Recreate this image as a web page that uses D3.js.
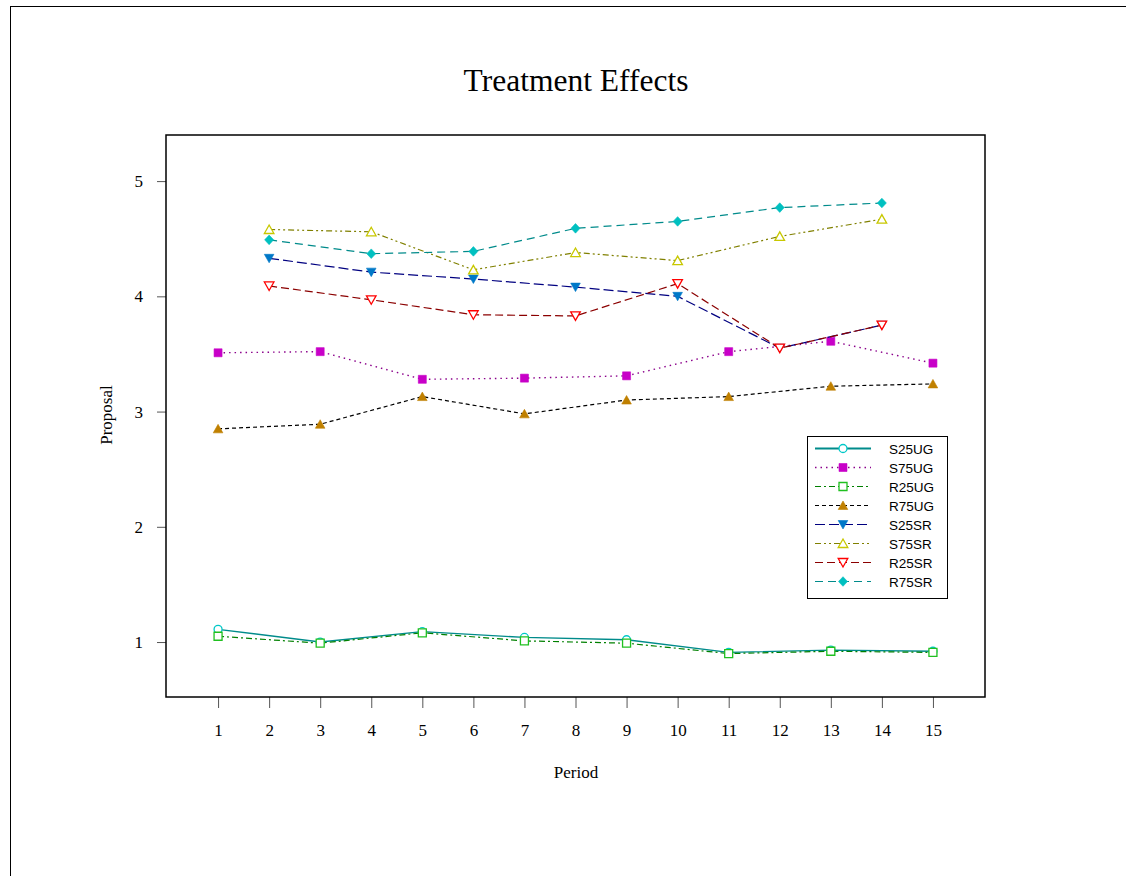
<!DOCTYPE html>
<html>
<head>
<meta charset="utf-8">
<script src="https://cdn.jsdelivr.net/npm/d3@7"></script>
<style>
  body { margin: 0; background: #fff; }
  svg { display: block; }
</style>
</head>
<body>
<div id="chart"></div>
<script>
// periods observed by each group of treatments
var oddPeriods = [1, 3, 5, 7, 9, 11, 13, 15];
var evenPeriods = [2, 4, 6, 8, 10, 12, 14];

// mean proposal per treatment
var s25ug = [1.11, 1.00, 1.09, 1.04, 1.02, 0.91, 0.93, 0.92];
var s75ug = [3.51, 3.52, 3.28, 3.29, 3.31, 3.52, 3.61, 3.42];
var r25ug = [1.05, 0.99, 1.08, 1.01, 0.99, 0.90, 0.92, 0.91];
var r75ug = [2.85, 2.89, 3.13, 2.98, 3.10, 3.13, 3.22, 3.24];
var s25sr = [4.33, 4.21, 4.15, 4.08, 4.00, 3.55, 3.75];
var s75sr = [4.58, 4.56, 4.23, 4.38, 4.31, 4.52, 4.67];
var r25sr = [4.09, 3.97, 3.84, 3.83, 4.11, 3.55, 3.75];
var r75sr = [4.49, 4.37, 4.39, 4.59, 4.65, 4.77, 4.81];

var xTicks = [1, 2, 3, 4, 5, 6, 7, 8, 9, 10, 11, 12, 13, 14, 15];
var yTicks = [1, 2, 3, 4, 5];

var width = 1126, height = 876;

var series = [
	{name: "S25UG", x: oddPeriods, y: s25ug, line: "#008b8b", dash: null, lw: 1.4, shape: "circle", fill: "none", mk: "#00c8c8"},
	{name: "S75UG", x: oddPeriods, y: s75ug, line: "#8b008b", dash: "1.5,4", lw: 1.4, shape: "square", fill: "#c800c8", mk: "#c800c8"},
	{name: "R25UG", x: oddPeriods, y: r25ug, line: "#008000", dash: "6,3,2,3", lw: 1.2, shape: "square", fill: "none", mk: "#20c020"},
	{name: "R75UG", x: oddPeriods, y: r75ug, line: "#000000", dash: "4,3", lw: 1.2, shape: "triangle", fill: "#c08000", mk: "#c08000"},
	{name: "S25SR", x: evenPeriods, y: s25sr, line: "#000080", dash: "10,4", lw: 1.2, shape: "down", fill: "#0078c8", mk: "#0078c8"},
	{name: "S75SR", x: evenPeriods, y: s75sr, line: "#808000", dash: "6,3,2,3,2,3", lw: 1.2, shape: "triangle", fill: "none", mk: "#c8c800"},
	{name: "R25SR", x: evenPeriods, y: r25sr, line: "#8b0000", dash: "8,4", lw: 1.2, shape: "down", fill: "none", mk: "#ff0000"},
	{name: "R75SR", x: evenPeriods, y: r75sr, line: "#008b8b", dash: "8,5", lw: 1.2, shape: "diamond", fill: "#00c0c0", mk: "#00c0c0"}
];

var svg = d3.select("#chart").append("svg")
	.attr("width", width)
	.attr("height", height);

// outer frame
svg.append("rect")
	.attr("x", 10.5).attr("y", 6.5)
	.attr("width", 1130).attr("height", 880)
	.attr("fill", "none").attr("stroke", "#000").attr("stroke-width", 1);

var plot = {left: 166, right: 985, top: 135, bottom: 697};

var x = d3.scaleLinear().domain([0, 16]).range([167, 984]);
var y = d3.scaleLinear().domain([0.523, 5.4]).range([plot.bottom, plot.top]);

// title
svg.append("text")
	.attr("x", 576).attr("y", 91)
	.attr("text-anchor", "middle")
	.style("font-family", "'Liberation Serif', 'Times New Roman', serif")
	.style("font-size", "31.5px")
	.text("Treatment Effects");

// axes
var xAxis = d3.axisBottom(x).tickValues(xTicks).tickSize(11).tickPadding(16).tickFormat(d3.format("d"));
var yAxis = d3.axisLeft(y).tickValues(yTicks).tickSize(9).tickPadding(14).tickFormat(d3.format("d"));

var gx = svg.append("g").attr("transform", "translate(0," + plot.bottom + ")").call(xAxis);
var gy = svg.append("g").attr("transform", "translate(" + plot.left + ",0)").call(yAxis);

[gx, gy].forEach(function(g) {
	g.select(".domain").remove();
	g.selectAll(".tick line").attr("stroke", "#555").attr("stroke-width", 1);
	g.selectAll(".tick text")
		.style("font-family", "'Liberation Serif', 'Times New Roman', serif")
		.style("font-size", "17px")
		.attr("fill", "#000");
});

svg.append("text")
	.attr("x", 576).attr("y", 778)
	.attr("text-anchor", "middle")
	.style("font-family", "'Liberation Serif', 'Times New Roman', serif")
	.style("font-size", "17px")
	.text("Period");

svg.append("text")
	.attr("transform", "translate(112,415) rotate(-90)")
	.attr("text-anchor", "middle")
	.style("font-family", "'Liberation Serif', 'Times New Roman', serif")
	.style("font-size", "17px")
	.text("Proposal");

// plot box
svg.append("rect")
	.attr("x", plot.left).attr("y", plot.top)
	.attr("width", plot.right - plot.left).attr("height", plot.bottom - plot.top)
	.attr("fill", "none").attr("stroke", "#000").attr("stroke-width", 1.5);

// marker path generator
function markerPath(shape) {
	if (shape == "circle") return d3.symbol(d3.symbolCircle, 50)();
	if (shape == "square") return "M-4,-4L4,-4L4,4L-4,4Z";
	if (shape == "triangle") return "M0,-4.5L4.8,4L-4.8,4Z";
	if (shape == "down") return "M0,4.5L4.8,-4L-4.8,-4Z";
	if (shape == "diamond") return "M0,-4.8L4.5,0L0,4.8L-4.5,0Z";
}

var line = d3.line()
	.x(function(d) { return x(d[0]); })
	.y(function(d) { return y(d[1]); });

series.forEach(function(s) {
	var pts = s.x.map(function(p, i) { return [p, s.y[i]]; });
	var g = svg.append("g");
	g.append("path")
		.attr("d", line(pts))
		.attr("fill", "none")
		.attr("stroke", s.line)
		.attr("stroke-width", s.lw)
		.attr("stroke-dasharray", s.dash);
	g.selectAll(".pt")
		.data(pts)
		.enter().append("path")
		.attr("transform", function(d) { return "translate(" + x(d[0]) + "," + y(d[1]) + ")"; })
		.attr("d", markerPath(s.shape))
		.attr("fill", s.fill == "none" ? "#fff" : s.fill)
		.attr("stroke", s.mk)
		.attr("stroke-width", s.fill == "none" ? 1.3 : 0.6);
});

// legend
var leg = svg.append("g");
leg.append("rect")
	.attr("x", 807.5).attr("y", 436.5)
	.attr("width", 140).attr("height", 162)
	.attr("fill", "#fff").attr("stroke", "#000").attr("stroke-width", 1);

series.forEach(function(s, i) {
	var ly = 448.5 + i * 19;
	leg.append("line")
		.attr("x1", 815).attr("x2", 871)
		.attr("y1", ly).attr("y2", ly)
		.attr("stroke", s.line)
		.attr("stroke-width", i == 0 ? 2.2 : s.lw)
		.attr("stroke-dasharray", s.dash);
	leg.append("path")
		.attr("transform", "translate(843," + ly + ")")
		.attr("d", markerPath(s.shape))
		.attr("fill", s.fill == "none" ? "#fff" : s.fill)
		.attr("stroke", s.mk)
		.attr("stroke-width", s.fill == "none" ? 1.3 : 0.6);
	leg.append("text")
		.attr("x", 889).attr("y", ly + 5)
		.style("font-family", "'Liberation Sans', Arial, sans-serif")
		.style("font-size", "13.5px")
		.text(s.name);
});
</script>
</body>
</html>
